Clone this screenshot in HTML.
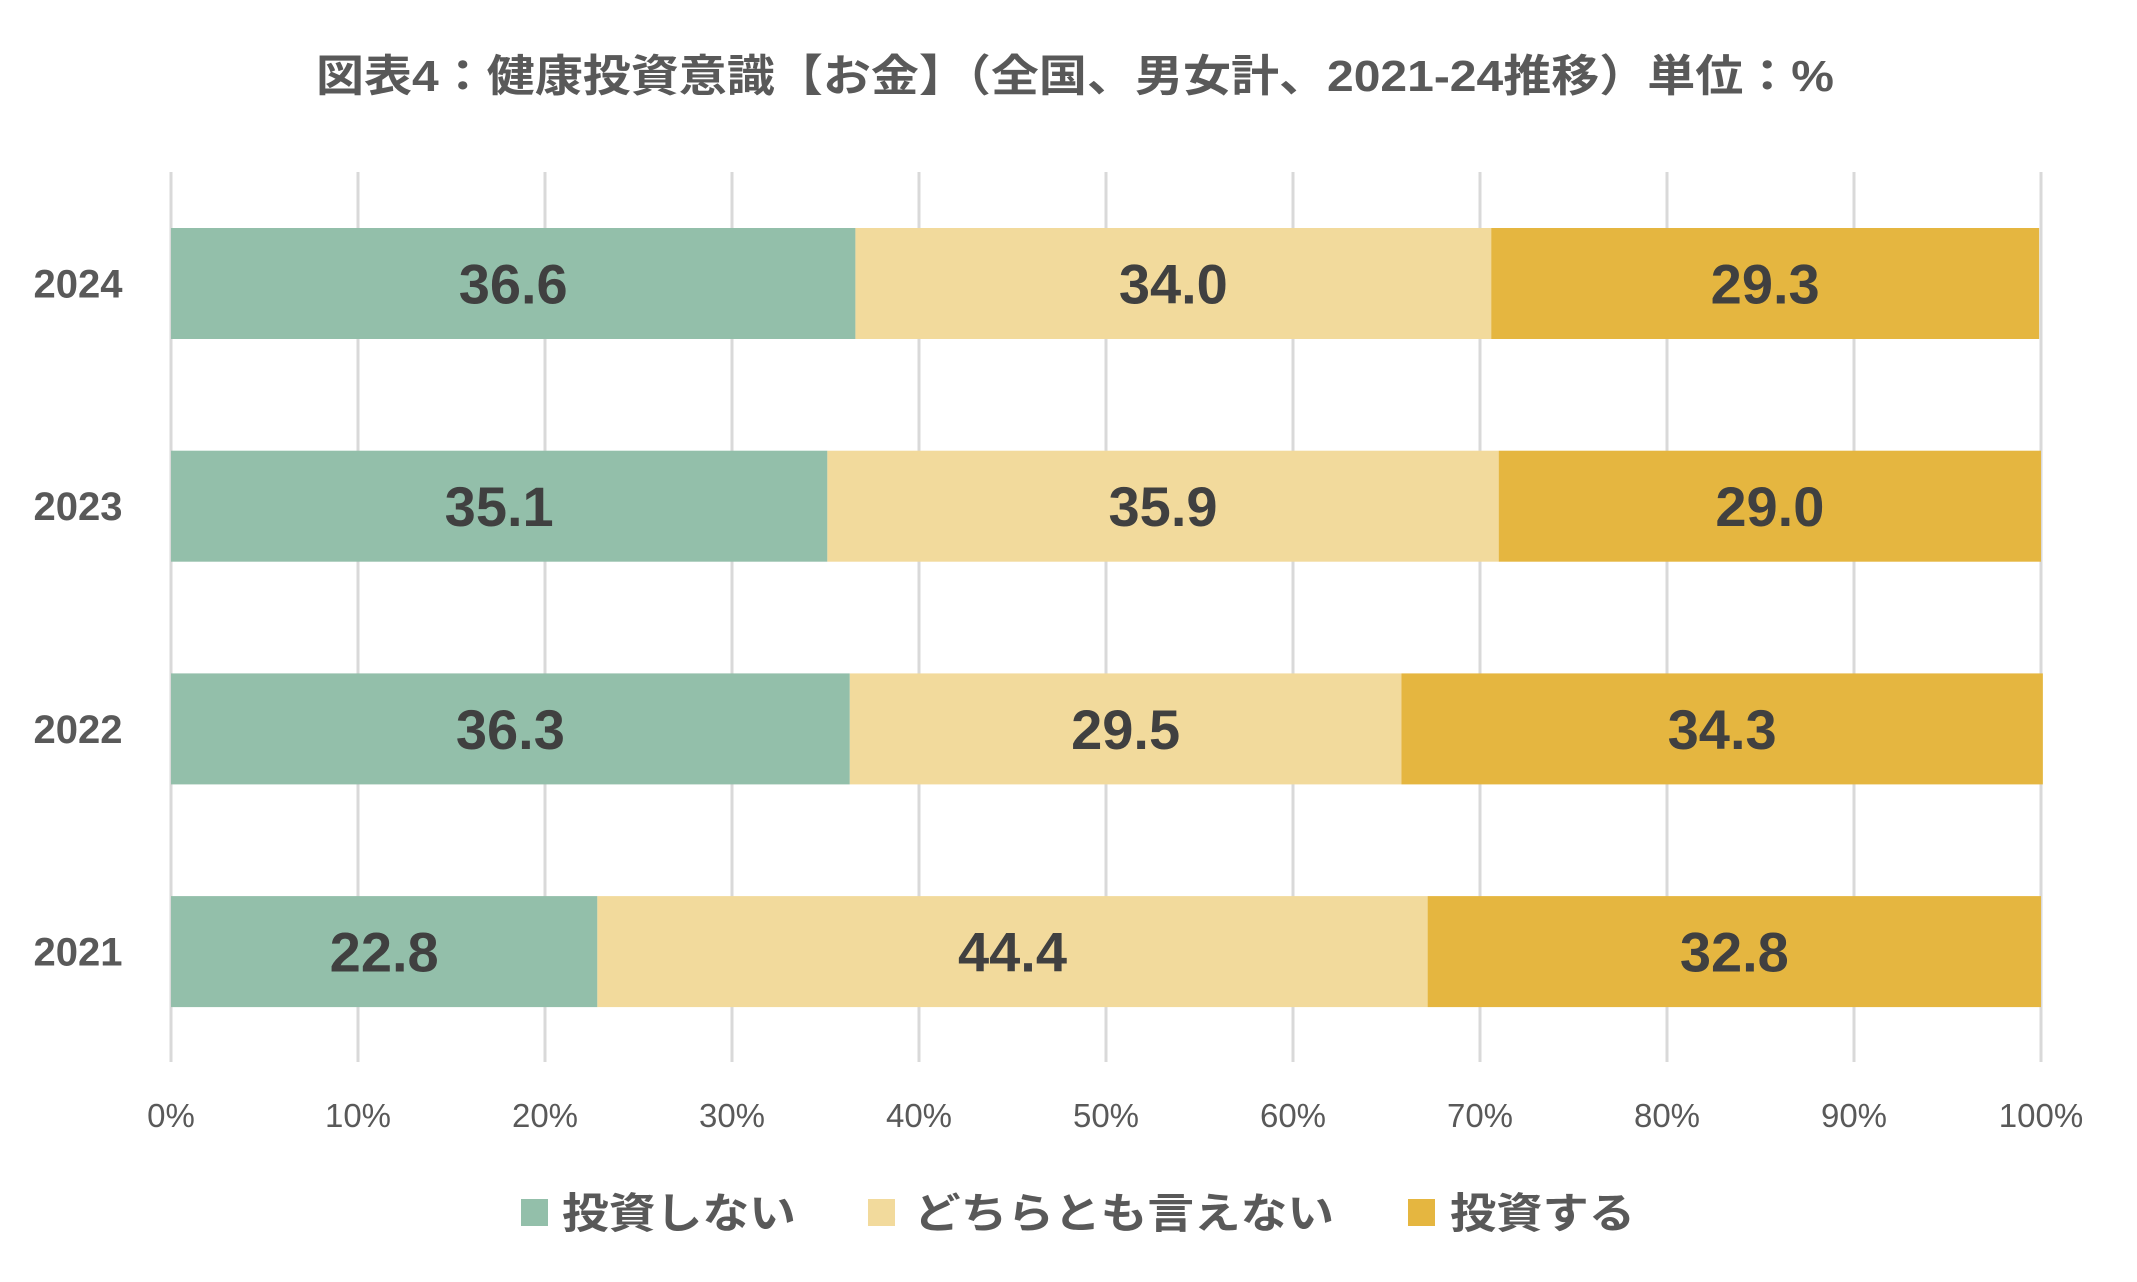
<!DOCTYPE html>
<html><head><meta charset="utf-8"><style>
html,body{margin:0;padding:0;background:#fff;}
svg{display:block;}
text{font-family:"Liberation Sans","Noto Sans CJK JP",sans-serif;}
</style></head><body>
<svg id="chart" width="2137" height="1282" viewBox="0 0 2137 1282" xmlns="http://www.w3.org/2000/svg">
<text x="316" y="91" textLength="1518" lengthAdjust="spacingAndGlyphs" font-size="44" font-weight="bold" fill="#595959">図表4：健康投資意識【お金】（全国、男女計、2021-24推移）単位：%</text>
<g id="grid"></g>
<g id="bars"></g>
<g id="ylabels"></g>
<g id="xlabels"></g>
<g>
<g><rect x="521" y="1199" width="27" height="27" fill="#93BFAA"/><text x="562" y="1228" textLength="234" lengthAdjust="spacingAndGlyphs" font-size="42" font-weight="bold" fill="#595959">投資しない</text></g>
<g><rect x="868" y="1199" width="27" height="27" fill="#F2DA9C"/><text x="914" y="1228" textLength="420" lengthAdjust="spacingAndGlyphs" font-size="42" font-weight="bold" fill="#595959">どちらとも言えない</text></g>
<g><rect x="1408" y="1199" width="27" height="27" fill="#E5B640"/><text x="1450" y="1228" textLength="185" lengthAdjust="spacingAndGlyphs" font-size="42" font-weight="bold" fill="#595959">投資する</text></g>
</g>
</svg>
<script>
const categories = ["2024","2023","2022","2021"];
const notInvest = [36.6, 35.1, 36.3, 22.8];
const neutral = [34.0, 35.9, 29.5, 44.4];
const invest = [29.3, 29.0, 34.3, 32.8];
const tickValues = [0,10,20,30,40,50,60,70,80,90,100];
const tickLabels = ["0%","10%","20%","30%","40%","50%","60%","70%","80%","90%","100%"];

const NS = "http://www.w3.org/2000/svg";
const X0 = 171, X1 = 2041;
const xScale = v => X0 + (X1 - X0) * v / 100;
const yTop = i => 228 + i * 222.7;
const BH = 111;
function mk(tag, attrs, parent){const e=document.createElementNS(NS,tag);for(const k in attrs)e.setAttribute(k,attrs[k]);parent.appendChild(e);return e;}
const grid=document.getElementById('grid'), bars=document.getElementById('bars'), yl=document.getElementById('ylabels'), xl=document.getElementById('xlabels');
tickValues.forEach((t,i)=>{
  const l=mk('line',{x1:xScale(t),x2:xScale(t),y1:172,y2:1062,stroke:'#d9d9d9','stroke-width':3},grid);
  
  
  const tx=mk('text',{x:xScale(t),y:1127,'text-anchor':'middle','font-size':33,fill:'#595959'},xl);
  tx.textContent=tickLabels[i];
  
  
});
const series=[{v:notInvest,c:'#93BFAA',n:'not-invest'},{v:neutral,c:'#F2DA9C',n:'neutral'},{v:invest,c:'#E5B640',n:'invest'}];
categories.forEach((cat,i)=>{
  const y=yTop(i);
  const lab=mk('text',{x:78,y:y+BH/2+14,'text-anchor':'middle','font-size':40,'font-weight':'bold',fill:'#595959'},yl);
  lab.textContent=cat;
  
  
  let acc=0;
  series.forEach(s=>{
    const v=s.v[i];
    const r=mk('rect',{x:xScale(acc),y:y,width:xScale(acc+v)-xScale(acc),height:BH,fill:s.c},bars);
    
    
    const t=mk('text',{x:xScale(acc+v/2),y:y+BH/2+20,'text-anchor':'middle','font-size':56,'font-weight':'bold',fill:'#404040'},bars);
    t.textContent=v.toFixed(1);
    
    
    acc+=v;
  });
});
</script>
</body></html>
